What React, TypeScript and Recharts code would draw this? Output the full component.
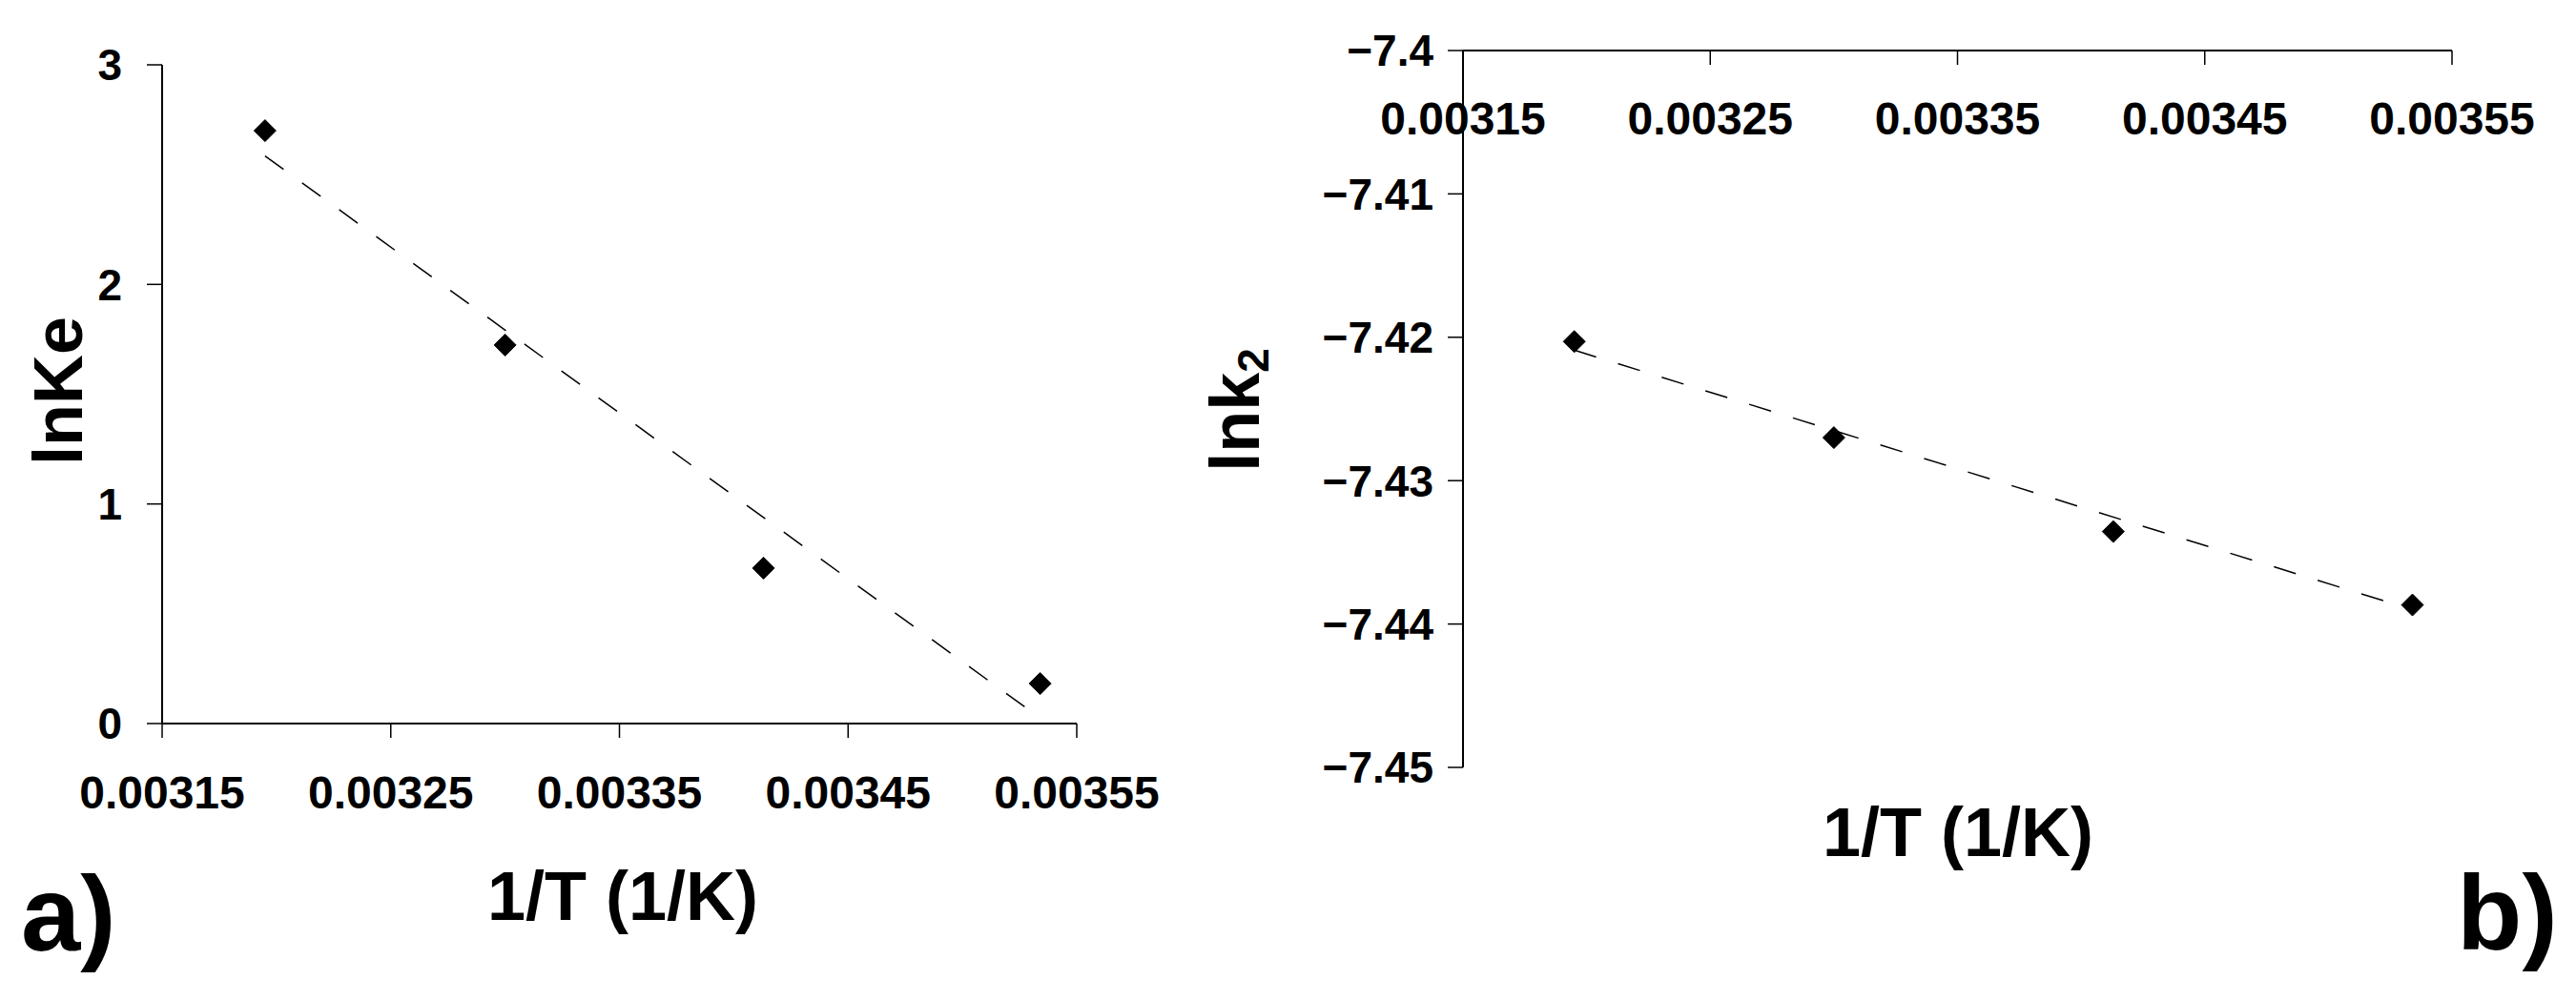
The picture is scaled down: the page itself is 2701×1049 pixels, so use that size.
import React from 'react';
import { ScatterChart, Scatter, XAxis, YAxis } from 'recharts';

// Inverse temperature (1/K)
const invT = [0.003195, 0.0033, 0.003413, 0.003534];
// Panel a: ln Ke
const lnKe = [2.7, 1.724, 0.708, 0.182];
// Panel b: ln k2
const lnK2 = [-7.4203, -7.427, -7.43355, -7.43867];
// Linear trend line end points
const trendX = [0.003195, 0.003534];
const trendA = [2.585, 0.025];
const trendB = [-7.4209, -7.439];
// Axis ticks
const xTicks = [0.00315, 0.00325, 0.00335, 0.00345, 0.00355];
const yTicksA = [0, 1, 2, 3];
const yTicksB = [-7.45, -7.44, -7.43, -7.42, -7.41, -7.4];

const FONT = '"Liberation Sans", Arial, Helvetica, sans-serif';

const pointsA = invT.map((x, i) => ({ x, y: lnKe[i] }));
const pointsB = invT.map((x, i) => ({ x, y: lnK2[i] }));
const lineA = trendX.map((x, i) => ({ x, y: trendA[i] }));
const lineB = trendX.map((x, i) => ({ x, y: trendB[i] }));

const Diamond = (props: any) => {
  const { cx, cy } = props;
  const r = 11.5;
  return (
    <path
      d={`M${cx},${cy - r}L${cx + r},${cy}L${cx},${cy + r}L${cx - r},${cy}Z`}
      fill="#000"
      stroke="#000"
      strokeWidth={1}
      strokeLinejoin="round"
    />
  );
};

const Empty = () => <g />;

const tickStyleX = { fill: '#000', fontSize: 48, fontWeight: 'bold', fontFamily: FONT };
const tickStyleY = { fill: '#000', fontSize: 46, fontWeight: 'bold', fontFamily: FONT };
const axisLine = { stroke: '#000', strokeWidth: 2 };
const tickLine = { stroke: '#000', strokeWidth: 1.5 };
const dashLine = { stroke: '#000', strokeWidth: 1.5, strokeDasharray: '24 24' };

const fmtX = (v: number) => v.toFixed(5);
const fmtB = (v: number) => String(v).replace('-', '\u2212');

export default function App() {
  return (
    <div style={{ position: 'absolute', left: 0, top: 0, width: 2701, height: 1049, background: '#fff', overflow: 'hidden' }}>
      <div style={{ position: 'absolute', left: 0, top: 0 }}>
        <ScatterChart width={1300} height={1049} margin={{ top: 68, right: 171, bottom: 0, left: 0 }}>
          <XAxis
            type="number"
            dataKey="x"
            domain={[0.00315, 0.00355]}
            ticks={xTicks}
            interval={0}
            tickFormatter={fmtX}
            height={290}
            tickSize={15}
            tickMargin={40}
            axisLine={axisLine}
            tickLine={tickLine}
            tick={tickStyleX}
          />
          <YAxis
            type="number"
            dataKey="y"
            domain={[0, 3]}
            ticks={yTicksA}
            interval={0}
            width={170}
            tickSize={16}
            tickMargin={26}
            axisLine={axisLine}
            tickLine={tickLine}
            tick={tickStyleY}
          />
          <Scatter data={lineA} line={dashLine} shape={Empty} isAnimationActive={false} />
          <Scatter data={pointsA} shape={Diamond} fill="#000" isAnimationActive={false} />
        </ScatterChart>
      </div>
      <div style={{ position: 'absolute', left: 1300, top: 0 }}>
        <ScatterChart width={1401} height={1049} margin={{ top: 53, right: 130, bottom: 244, left: 0 }}>
          <XAxis
            type="number"
            dataKey="x"
            orientation="top"
            mirror
            domain={[0.00315, 0.00355]}
            ticks={xTicks}
            interval={0}
            tickFormatter={fmtX}
            height={60}
            tickSize={15}
            tickMargin={39}
            axisLine={axisLine}
            tickLine={tickLine}
            tick={tickStyleX}
          />
          <YAxis
            type="number"
            dataKey="y"
            domain={[-7.45, -7.4]}
            ticks={yTicksB}
            interval={0}
            allowDataOverflow
            width={234}
            tickSize={16}
            tickMargin={15}
            tickFormatter={fmtB}
            axisLine={axisLine}
            tickLine={tickLine}
            tick={tickStyleY}
          />
          <Scatter data={lineB} line={dashLine} shape={Empty} isAnimationActive={false} />
          <Scatter data={pointsB} shape={Diamond} fill="#000" isAnimationActive={false} />
        </ScatterChart>
      </div>
      <svg
        width={2701}
        height={1049}
        style={{ position: 'absolute', left: 0, top: 0, pointerEvents: 'none' }}
        fontFamily={FONT}
        fontWeight="bold"
        fill="#000"
      >
        <text transform="translate(86,410) rotate(-90)" textAnchor="middle" fontSize={72}>lnKe</text>
        <text x={653} y={965} textAnchor="middle" fontSize={72}>1/T (1/K)</text>
        <text x={22} y={997} fontSize={112}>a)</text>
        <text transform="translate(1320,430) rotate(-90)" textAnchor="middle" fontSize={72}>
          lnk<tspan fontSize={46} dy={10}>2</tspan>
        </text>
        <text x={2053} y={898} textAnchor="middle" fontSize={72}>1/T (1/K)</text>
        <text x={2576} y={996} fontSize={112}>b)</text>
      </svg>
    </div>
  );
}
